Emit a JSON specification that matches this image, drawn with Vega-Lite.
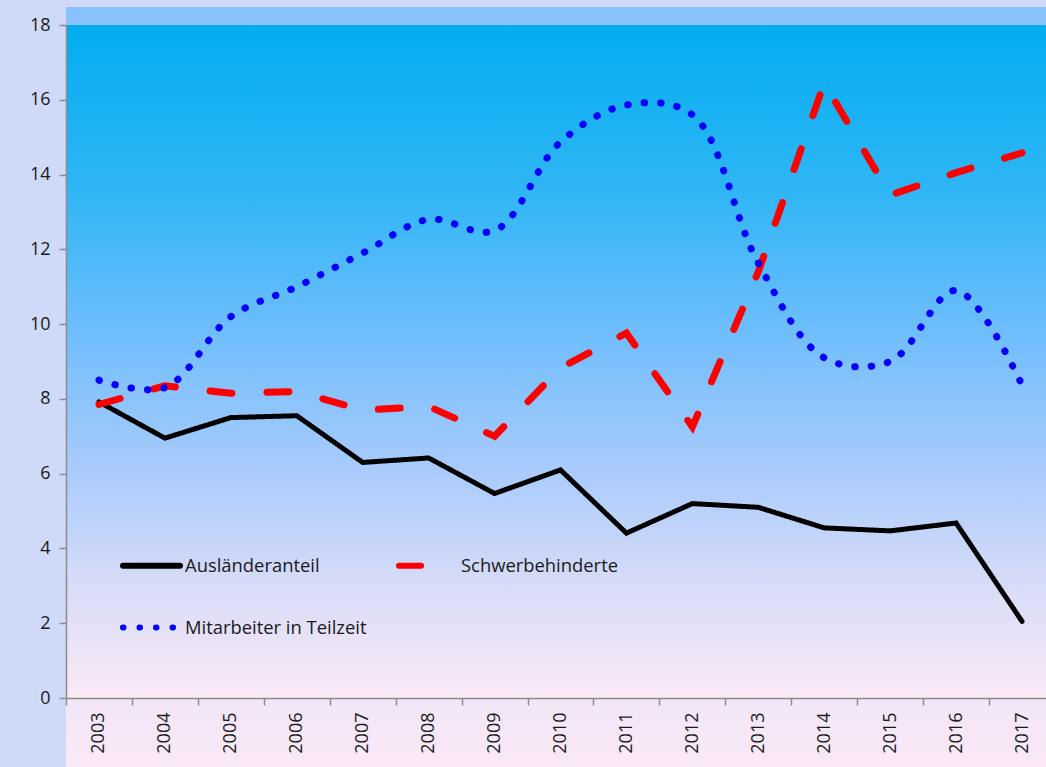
{
  "$schema": "https://vega.github.io/schema/vega-lite/v6.json",
  "width": 989,
  "height": 673,
  "autosize": {"type": "none"},
  "padding": {"left": 66, "top": 25, "right": -9, "bottom": 69},
  "background": "#cfdaf8",
  "config": {
    "font": "Open Sans",
    "view": {"stroke": null},
    "axis": {"grid": false, "domainColor": "#8c8c8c", "domainWidth": 1.5, "tickColor": "#8c8c8c", "tickWidth": 1.5, "tickSize": 7, "labelFontSize": 18, "labelColor": "#1a1a1a", "labelFont": "Open Sans", "title": null},
    "legend": {"orient": "none", "legendX": 54, "legendY": 509, "columns": 2, "direction": "horizontal", "columnPadding": 20, "rowPadding": 18, "symbolType": "stroke", "symbolSize": 3249, "symbolStrokeWidth": 6, "labelFontSize": 18.4, "labelFont": "Open Sans", "labelColor": "#1a1a1a", "labelLimit": 400, "labelOffset": 2, "title": null}
  },
  "datasets": {
    "series": [
      {"year": "2003", "series": "Ausländeranteil", "value": 7.92},
      {"year": "2004", "series": "Ausländeranteil", "value": 6.95},
      {"year": "2005", "series": "Ausländeranteil", "value": 7.5},
      {"year": "2006", "series": "Ausländeranteil", "value": 7.55},
      {"year": "2007", "series": "Ausländeranteil", "value": 6.3},
      {"year": "2008", "series": "Ausländeranteil", "value": 6.42},
      {"year": "2009", "series": "Ausländeranteil", "value": 5.47},
      {"year": "2010", "series": "Ausländeranteil", "value": 6.1},
      {"year": "2011", "series": "Ausländeranteil", "value": 4.41},
      {"year": "2012", "series": "Ausländeranteil", "value": 5.2},
      {"year": "2013", "series": "Ausländeranteil", "value": 5.1},
      {"year": "2014", "series": "Ausländeranteil", "value": 4.55},
      {"year": "2015", "series": "Ausländeranteil", "value": 4.47},
      {"year": "2016", "series": "Ausländeranteil", "value": 4.68},
      {"year": "2017", "series": "Ausländeranteil", "value": 2.05},
      {"year": "2003", "series": "Schwerbehinderte", "value": 7.85},
      {"year": "2004", "series": "Schwerbehinderte", "value": 8.35},
      {"year": "2005", "series": "Schwerbehinderte", "value": 8.15},
      {"year": "2006", "series": "Schwerbehinderte", "value": 8.2},
      {"year": "2007", "series": "Schwerbehinderte", "value": 7.7},
      {"year": "2008", "series": "Schwerbehinderte", "value": 7.8},
      {"year": "2009", "series": "Schwerbehinderte", "value": 7.0},
      {"year": "2010", "series": "Schwerbehinderte", "value": 8.83},
      {"year": "2011", "series": "Schwerbehinderte", "value": 9.76},
      {"year": "2012", "series": "Schwerbehinderte", "value": 7.25},
      {"year": "2013", "series": "Schwerbehinderte", "value": 11.4},
      {"year": "2014", "series": "Schwerbehinderte", "value": 16.45},
      {"year": "2015", "series": "Schwerbehinderte", "value": 13.45},
      {"year": "2016", "series": "Schwerbehinderte", "value": 14.05},
      {"year": "2017", "series": "Schwerbehinderte", "value": 14.58},
      {"year": "2003", "series": "Mitarbeiter in Teilzeit", "value": 8.5},
      {"year": "2004", "series": "Mitarbeiter in Teilzeit", "value": 8.3},
      {"year": "2005", "series": "Mitarbeiter in Teilzeit", "value": 10.2},
      {"year": "2006", "series": "Mitarbeiter in Teilzeit", "value": 11.0},
      {"year": "2007", "series": "Mitarbeiter in Teilzeit", "value": 11.9},
      {"year": "2008", "series": "Mitarbeiter in Teilzeit", "value": 12.8},
      {"year": "2009", "series": "Mitarbeiter in Teilzeit", "value": 12.5},
      {"year": "2010", "series": "Mitarbeiter in Teilzeit", "value": 14.87},
      {"year": "2011", "series": "Mitarbeiter in Teilzeit", "value": 15.86},
      {"year": "2012", "series": "Mitarbeiter in Teilzeit", "value": 15.6},
      {"year": "2013", "series": "Mitarbeiter in Teilzeit", "value": 11.63},
      {"year": "2014", "series": "Mitarbeiter in Teilzeit", "value": 9.1},
      {"year": "2015", "series": "Mitarbeiter in Teilzeit", "value": 9.0},
      {"year": "2016", "series": "Mitarbeiter in Teilzeit", "value": 10.9},
      {"year": "2017", "series": "Mitarbeiter in Teilzeit", "value": 8.37}
    ]
  },
  "layer": [
    {
      "data": {"values": [{}]},
      "mark": {"type": "rect", "color": {"gradient": "linear", "x1": 0, "y1": 0, "x2": 0, "y2": 1, "stops": [{"offset": 0, "color": "#88c0ff"}, {"offset": 0.5, "color": "#c4d6f8"}, {"offset": 1, "color": "#fbe9f7"}]}},
      "encoding": {
        "y": {"datum": 18.48, "type": "quantitative", "scale": {"domain": [0, 18]}},
        "y2": {"datum": -1.85}
      }
    },
    {
      "data": {"values": [{}]},
      "mark": {"type": "rect", "color": {"gradient": "linear", "x1": 0, "y1": 0, "x2": 0, "y2": 1, "stops": [{"offset": 0, "color": "#02adef"}, {"offset": 0.25, "color": "#30b6f6"}, {"offset": 0.45, "color": "#6dbdfc"}, {"offset": 0.65, "color": "#a6cafc"}, {"offset": 0.82, "color": "#d4dbf8"}, {"offset": 1, "color": "#fce9f6"}]}},
      "encoding": {
        "y": {"datum": 18, "type": "quantitative"},
        "y2": {"datum": 0}
      }
    },
    {
      "data": {"name": "series"},
      "transform": [{"filter": "datum.series === 'Ausländeranteil'"}],
      "mark": {"type": "line", "strokeWidth": 5, "strokeCap": "round", "strokeJoin": "miter"},
      "encoding": {
        "x": {"field": "year", "type": "ordinal", "scale": {"type": "band", "paddingInner": 0, "paddingOuter": 0}, "axis": {"zindex": 2, "tickBand": "extent", "labelAngle": -90, "labelAlign": "right", "labelBaseline": "middle", "labelPadding": 7, "labelFontSize": 18, "labelFont": "Open Sans"}},
        "y": {"field": "value", "type": "quantitative", "scale": {"domain": [0, 18]}, "axis": {"zindex": 2, "values": [0, 2, 4, 6, 8, 10, 12, 14, 16, 18], "labelPadding": 9, "labelFontSize": 18, "labelFont": "Open Sans"}},
        "color": {"field": "series", "type": "nominal", "scale": {"domain": ["Ausländeranteil", "Schwerbehinderte", "Mitarbeiter in Teilzeit"], "range": ["#000000", "#ff0000", "#0000ff"]}, "legend": {"encoding": {"symbols": {"strokeCap": {"value": "round"}}}}},
        "strokeDash": {"field": "series", "type": "nominal", "scale": {"domain": ["Ausländeranteil", "Schwerbehinderte", "Mitarbeiter in Teilzeit"], "range": [[1, 0], [22, 35], [0.5, 16]]}}
      }
    },
    {
      "data": {"name": "series"},
      "transform": [{"filter": "datum.series === 'Schwerbehinderte'"}],
      "mark": {"type": "line", "strokeWidth": 7, "strokeCap": "round"},
      "encoding": {
        "x": {"field": "year", "type": "ordinal"},
        "y": {"field": "value", "type": "quantitative"},
        "color": {"field": "series", "type": "nominal"},
        "strokeDash": {"field": "series", "type": "nominal"}
      }
    },
    {
      "data": {"name": "series"},
      "transform": [{"filter": "datum.series === 'Mitarbeiter in Teilzeit'"}],
      "mark": {"type": "line", "strokeWidth": 7, "strokeCap": "round", "interpolate": "catmull-rom"},
      "encoding": {
        "x": {"field": "year", "type": "ordinal"},
        "y": {"field": "value", "type": "quantitative"},
        "color": {"field": "series", "type": "nominal"},
        "strokeDash": {"field": "series", "type": "nominal"}
      }
    }
  ]
}
